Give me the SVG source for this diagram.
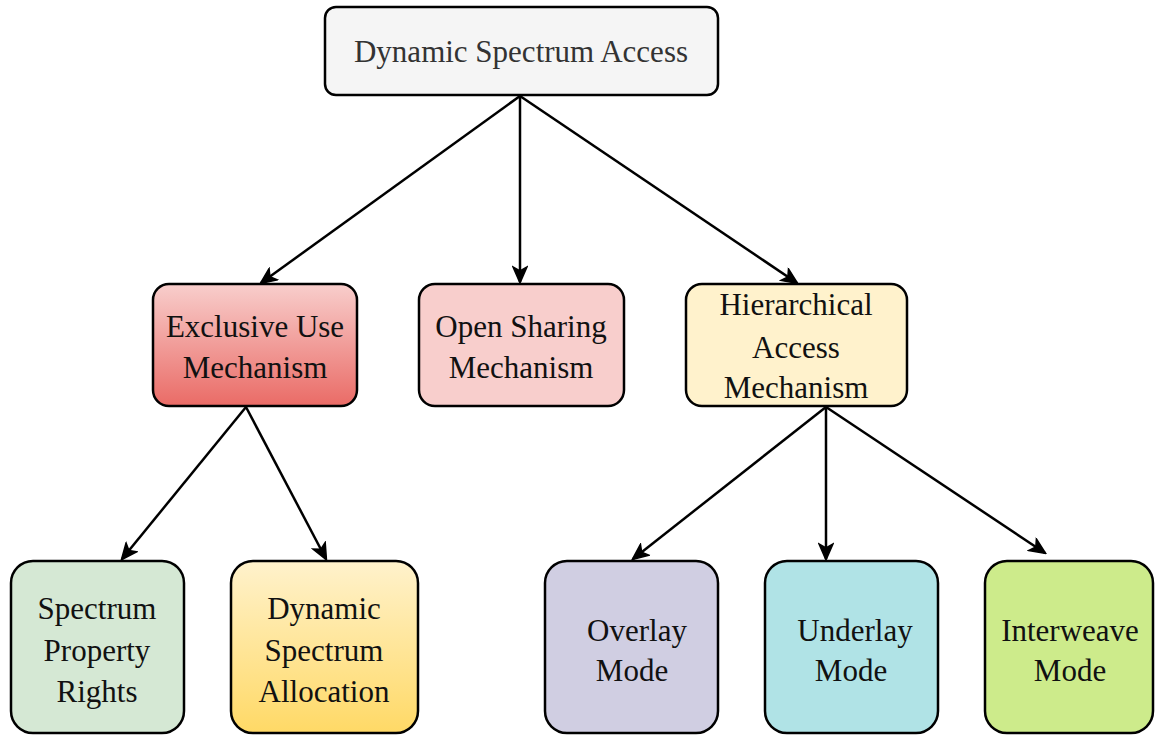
<svg xmlns="http://www.w3.org/2000/svg" width="1155" height="736" viewBox="0 0 1155 736">
  <style>
    .box { stroke: #000; stroke-width: 2.5; }
    .lbl { font-family: "Liberation Serif", "Times New Roman", serif; font-size: 31px; text-anchor: middle; fill: #111; }
    .top { fill: #333; }
    .edge { fill: none; stroke: #000; stroke-width: 2.5; marker-end: url(#arrow); }
  </style>
  <defs>
    <marker id="arrow" markerUnits="userSpaceOnUse" viewBox="-17 -8 19 16" refX="0" refY="0" markerWidth="19" markerHeight="16" orient="auto">
      <path d="M1,0 L-15,-7 L-11,0 L-15,7 Z" fill="#000" stroke="#000" stroke-width="1.5" stroke-linejoin="miter"/>
    </marker>
    <linearGradient id="gRed" x1="0" y1="0" x2="0" y2="1">
      <stop offset="0" stop-color="#f8cecc"/>
      <stop offset="1" stop-color="#ea6b66"/>
    </linearGradient>
    <linearGradient id="gGold" x1="0" y1="0" x2="0" y2="1">
      <stop offset="0" stop-color="#fff2cc"/>
      <stop offset="1" stop-color="#ffd966"/>
    </linearGradient>
  </defs>

  <!-- connectors -->
  <g id="connectors">
    <line class="edge" x1="520" y1="96" x2="261" y2="283"/>
    <line class="edge" x1="520" y1="96" x2="520" y2="282"/>
    <line class="edge" x1="520" y1="96" x2="797" y2="283"/>
    <line class="edge" x1="246" y1="407" x2="122" y2="559"/>
    <line class="edge" x1="246" y1="407" x2="326" y2="559"/>
    <line class="edge" x1="826" y1="407" x2="633" y2="559"/>
    <line class="edge" x1="826" y1="407" x2="826" y2="559"/>
    <line class="edge" x1="826" y1="407" x2="1045" y2="553"/>
  </g>

  <!-- root -->
  <g id="dsa">
    <rect class="box" x="325" y="7" width="393" height="88" rx="11" fill="#f5f5f5"/>
    <text class="lbl top" x="521" y="62">Dynamic Spectrum Access</text>
  </g>

  <!-- second level -->
  <g id="exclusive">
    <rect class="box" x="153" y="284" width="204" height="122" rx="16" fill="url(#gRed)"/>
    <text class="lbl" x="255" y="337">Exclusive Use</text>
    <text class="lbl" x="255" y="378">Mechanism</text>
  </g>
  <g id="open">
    <rect class="box" x="419" y="284" width="205" height="122" rx="16" fill="#f8cecc"/>
    <text class="lbl" x="521" y="337">Open Sharing</text>
    <text class="lbl" x="521" y="378">Mechanism</text>
  </g>
  <g id="hierarchical">
    <rect class="box" x="686" y="284" width="221" height="122" rx="16" fill="#fff2cc"/>
    <text class="lbl" x="796" y="315">Hierarchical</text>
    <text class="lbl" x="796" y="358">Access</text>
    <text class="lbl" x="796" y="398">Mechanism</text>
  </g>

  <!-- third level -->
  <g id="property">
    <rect class="box" x="11" y="561" width="173" height="172" rx="22" fill="#d5e8d4"/>
    <text class="lbl" x="97" y="619">Spectrum</text>
    <text class="lbl" x="97" y="661">Property</text>
    <text class="lbl" x="97" y="702">Rights</text>
  </g>
  <g id="allocation">
    <rect class="box" x="231" y="561" width="187" height="172" rx="22" fill="url(#gGold)"/>
    <text class="lbl" x="324" y="619">Dynamic</text>
    <text class="lbl" x="324" y="661">Spectrum</text>
    <text class="lbl" x="324" y="702">Allocation</text>
  </g>
  <g id="overlay">
    <rect class="box" x="545" y="561" width="173" height="172" rx="22" fill="#d0cee2"/>
    <text class="lbl" x="637" y="641">Overlay</text>
    <text class="lbl" x="632" y="681">Mode</text>
  </g>
  <g id="underlay">
    <rect class="box" x="765" y="561" width="173" height="172" rx="22" fill="#b0e3e6"/>
    <text class="lbl" x="855" y="641">Underlay</text>
    <text class="lbl" x="851" y="681">Mode</text>
  </g>
  <g id="interweave">
    <rect class="box" x="985" y="561" width="168" height="172" rx="22" fill="#cdeb8b"/>
    <text class="lbl" x="1070" y="641">Interweave</text>
    <text class="lbl" x="1070" y="681">Mode</text>
  </g>
</svg>
